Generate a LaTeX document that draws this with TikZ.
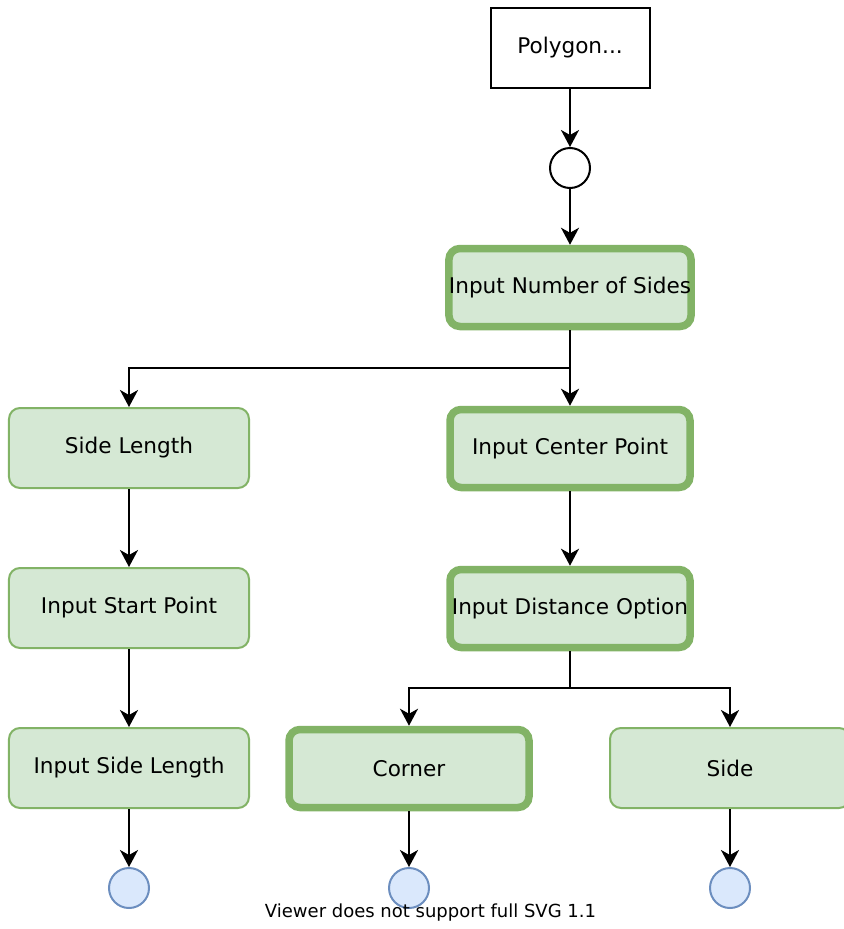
\documentclass[tikz,border=0pt]{standalone}
\usepackage{fontspec}
\setmainfont{DejaVu Sans}
\usetikzlibrary{arrows.meta}
\definecolor{gfill}{HTML}{D5E8D4}
\definecolor{gline}{HTML}{82B366}
\definecolor{bfill}{HTML}{DAE8FC}
\definecolor{bline}{HTML}{6C8EBF}
\tikzset{
  base/.style={font=\fontsize{21.6bp}{26bp}\selectfont, inner sep=0pt, align=center},
  plainbox/.style={base, draw=black, fill=white, line width=2bp, minimum width=159bp, minimum height=80bp},
  thinbox/.style={base, draw=gline, fill=gfill, line width=2bp, rounded corners=11bp, minimum width=240bp, minimum height=80bp},
  thickbox/.style={base, draw=gline, fill=gfill, line width=7.5bp, rounded corners=11bp, minimum width=240bp, minimum height=78bp},
  startdot/.style={circle, draw=black, fill=white, line width=2bp, minimum size=40bp, inner sep=0pt},
  enddot/.style={circle, draw=bline, fill=bfill, line width=2bp, minimum size=40bp, inner sep=0pt},
  conn/.style={draw=black, line width=2bp, -{Stealth[length=17bp, width=18bp, inset=5bp]}},
  seg/.style={draw=black, line width=2bp}
}
\begin{document}
\begin{tikzpicture}[x=1bp, y=-1bp]
\useasboundingbox (0,0) rectangle (844,929);
\begin{scope}
\clip (0,0) rectangle (844,929);
\node[thinbox] (side) at (730,768) {Side};
\end{scope}
\node[plainbox] (poly) at (570,48) {Polygon...};
\node[startdot] (start) at (570,168) {};
\node[thickbox] (nsides) at (570,287.5) {Input Number of Sides};
\node[thinbox] (slen) at (129,448) {Side Length};
\node[thickbox] (center) at (570,448.5) {Input Center Point};
\node[thinbox] (spt) at (129,608) {Input Start Point};
\node[thickbox] (dist) at (570,608.5) {Input Distance Option};
\node[thinbox] (islen) at (129,768) {Input Side Length};
\node[thickbox] (corner) at (409,768.5) {Corner};
\node[enddot] (e1) at (129,888) {};
\node[enddot] (e2) at (409,888) {};
\node[enddot] (e3) at (730,888) {};
\node[font=\fontsize{18bp}{22bp}\selectfont, inner sep=0pt] (warn) at (430.5,913) {Viewer does not support full SVG 1.1};

\coordinate (j1) at (570,368);
\coordinate (j2) at (570,688);
\draw[conn] (poly.south) -- (start.north);
\draw[conn] (start.south) -- (nsides.north);
\draw[conn] (nsides.south) -- (center.north);
\draw[conn] (j1) -| (slen.north);
\draw[conn] (slen.south) -- (spt.north);
\draw[conn] (spt.south) -- (islen.north);
\draw[conn] (center.south) -- (dist.north);
\draw[seg] (dist.south) -- (j2);
\draw[conn] (j2) -| (corner.north);
\draw[conn] (j2) -| (side.north);
\draw[conn] (islen.south) -- (e1.north);
\draw[conn] (corner.south) -- (e2.north);
\draw[conn] (side.south) -- (e3.north);
\end{tikzpicture}
\end{document}
